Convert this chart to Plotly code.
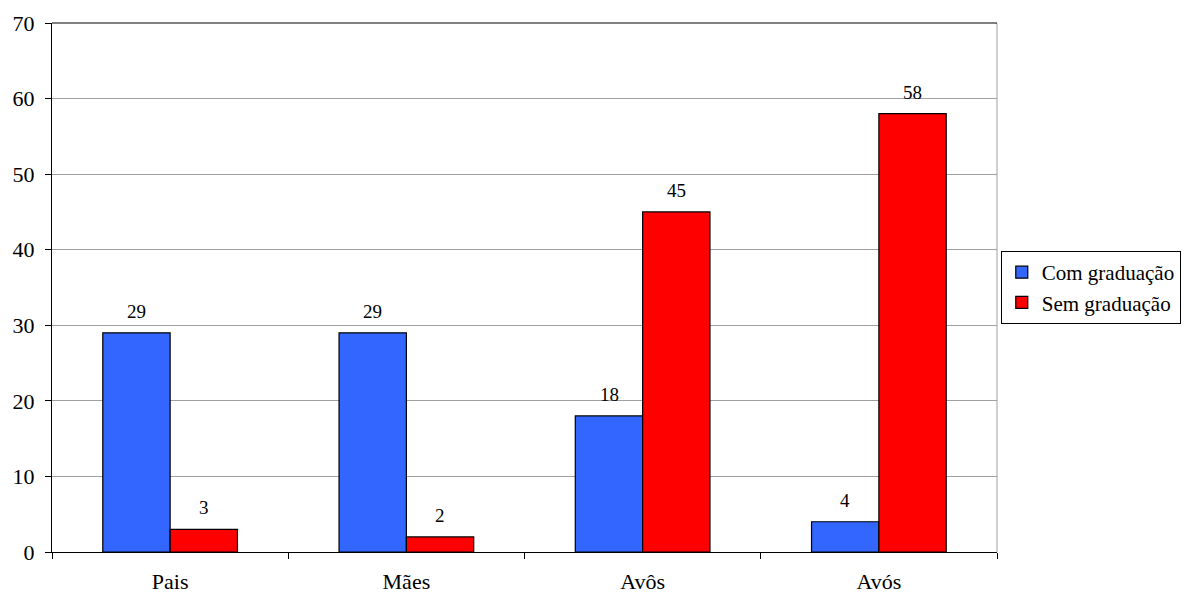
import plotly.graph_objects as go

categories = ["Pais", "Mães", "Avôs", "Avós"]
com_grad = [29, 29, 18, 4]
sem_grad = [3, 2, 45, 58]
series_names = ["Com graduação", "Sem graduação"]
y_ticks = [0, 10, 20, 30, 40, 50, 60, 70]

font_family = "Times New Roman"

fig = go.Figure()
fig.add_trace(go.Bar(
    x=categories, y=com_grad, name=series_names[0],
    marker=dict(color="#3366FF", line=dict(color="black", width=1.2)),
))
fig.add_trace(go.Bar(
    x=categories, y=sem_grad, name=series_names[1],
    marker=dict(color="#FF0000", line=dict(color="black", width=1.2)),
))

half_bar = 33.5
for vals, shift in ((com_grad, -half_bar), (sem_grad, half_bar)):
    for c, v in zip(categories, vals):
        fig.add_annotation(x=c, y=v, xref="x", yref="y", text=str(v), showarrow=False,
                           xshift=shift, yshift=9, yanchor="bottom",
                           font=dict(family=font_family, size=19, color="black"))

fig.update_layout(
    width=1189, height=587,
    paper_bgcolor="white", plot_bgcolor="white",
    barmode="group", bargap=0.43, bargroupgap=0,
    margin=dict(l=44, r=200, t=15, b=43, autoexpand=False),
    font=dict(family=font_family, size=22, color="black"),
    showlegend=True,
    legend=dict(
        x=1.004, y=0.5, xanchor="left", yanchor="middle",
        bordercolor="black", borderwidth=1,
        font=dict(family=font_family, size=21, color="black"),
        itemwidth=30, tracegroupgap=0,
    ),
    xaxis=dict(
        type="category", showgrid=False, showline=True, linecolor="black", linewidth=1,
        ticks="outside", tickson="boundaries", ticklen=6, tickcolor="black",
        mirror=False, tickfont=dict(family=font_family, size=22), automargin=False,
        ticklabelstandoff=10,
    ),
    yaxis=dict(
        range=[0, 70], tickvals=y_ticks, showgrid=True, gridcolor="#A0A0A0", gridwidth=1,
        showline=True, linecolor="black", linewidth=1,
        ticks="outside", ticklen=6, tickcolor="black",
        tickfont=dict(family=font_family, size=22), zeroline=False, automargin=False,
        ticklabelstandoff=6,
    ),
)
fig.add_shape(type="line", xref="paper", yref="paper", x0=1, x1=1, y0=0, y1=1,
              line=dict(color="#A0A0A0", width=1))
fig.add_shape(type="line", xref="paper", yref="paper", x0=0, x1=1, y0=1, y1=1,
              line=dict(color="black", width=1))

fig.write_html("out.html")
